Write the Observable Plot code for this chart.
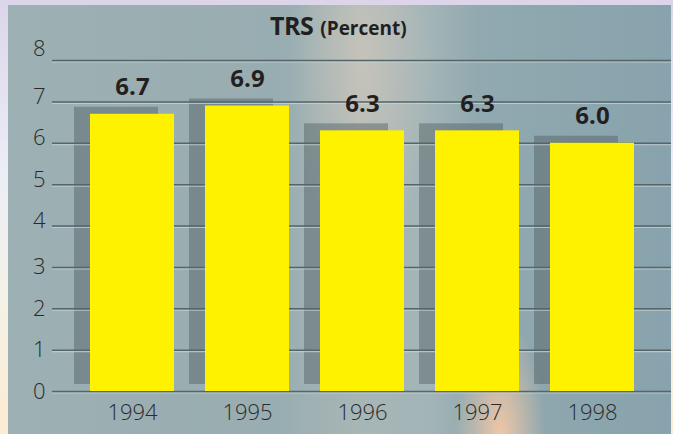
<!DOCTYPE html>
<html><head><meta charset="utf-8">
<script src="https://cdn.jsdelivr.net/npm/d3@7"></script>
<script src="https://cdn.jsdelivr.net/npm/@observablehq/plot@0.6"></script>
<style>
html,body{margin:0;padding:0;}
#wrap{position:relative;width:673px;height:434px;overflow:hidden;
 background:linear-gradient(to bottom,#dcd5ea 0%,#eceef6 40%,#f4f1e6 70%,#fdebd2 100%);}
#panel{position:absolute;left:8px;top:5px;width:663px;height:429px;
 background:
  radial-gradient(ellipse 45px 120px at 492px 432px, rgba(246,200,165,0.95), rgba(240,200,170,0.45) 55%, rgba(240,200,170,0) 100%),
  radial-gradient(ellipse 70px 200px at 355px 60px, rgba(222,206,190,0.55), rgba(222,206,190,0) 100%),
  linear-gradient(to right, rgba(190,195,190,0) 270px, rgba(200,200,190,0.35) 350px, rgba(200,205,200,0.3) 420px, rgba(190,195,190,0) 470px),
  linear-gradient(to right, #9db0b3 0%, #98adb1 45%, #90a8af 75%, #88a3ad 100%);}
#title{position:absolute;left:270px;top:9px;white-space:nowrap;font-family:"Open Sans",sans-serif;font-weight:700;color:#231f20;line-height:32px;}
#title .a{font-size:25px;letter-spacing:-0.5px;}
#title .b{font-size:19px;margin-left:7px;}
#chart{position:absolute;left:0;top:0;}
</style>
</head><body>
<div id="wrap"><div id="panel"></div>
<div id="title"><span class="a">TRS</span><span class="b">(Percent)</span></div>
<div id="chart"></div></div>
<script>
const years = ["1994", "1995", "1996", "1997", "1998"];
const trs = [6.7, 6.9, 6.3, 6.3, 6.0];
const yTicks = [0, 1, 2, 3, 4, 5, 6, 7, 8];
const valueLabels = ["6.7", "6.9", "6.3", "6.3", "6.0"];

const data = years.map((y, i) => ({year: y, value: trs[i], label: valueLabels[i]}));

const tickFont = {fontFamily: "Open Sans", fontWeight: 300, fontSize: 22, fill: "#2a2a2a"};

const chart = Plot.plot({
  width: 673,
  height: 434,
  marginLeft: 52,
  marginRight: 2,
  marginTop: 60,
  marginBottom: 43,
  style: {background: "transparent", fontFamily: "Open Sans"},
  x: {domain: years, paddingInner: 0.27, paddingOuter: 0.32, axis: null, label: null},
  y: {domain: [0, 8], axis: null, label: null},
  marks: [
    Plot.barY(data, {x: "year", y: "value", fill: "#4f5e62", fillOpacity: 0.45, dx: -16, dy: -7, ariaLabel: "shadow"}),
    Plot.ruleY(yTicks, {stroke: "#cdd7d8", strokeWidth: 1.2, dy: 1.5, strokeOpacity: 0.7}),
    Plot.ruleY(yTicks, {stroke: "#55666b", strokeWidth: 1.5}),
    Plot.barY(data, {x: "year", y: "value", fill: "#fff200"}),
    Plot.text(data, {x: "year", y: "value", text: "label", dy: -27, fontFamily: "Open Sans", fontWeight: 700, fontSize: 24, fill: "#231f20"}),
    Plot.axisX({tickSize: 0, tickPadding: 13, label: null, ...tickFont}),
    Plot.axisY({ticks: [8], tickSize: 0, tickPadding: 7, dy: -12, label: null, ...tickFont}),
    Plot.axisY({ticks: [7, 6, 5, 4], tickSize: 0, tickPadding: 7, dy: -5, label: null, ...tickFont}),
    Plot.axisY({ticks: [3, 2, 1, 0], tickSize: 0, tickPadding: 7, dy: 0, label: null, ...tickFont})
  ]
});
document.getElementById("chart").appendChild(chart);
d3.select(chart).selectAll("g[aria-label=shadow]").style("filter", "blur(1.3px)");
</script>
</body></html>
